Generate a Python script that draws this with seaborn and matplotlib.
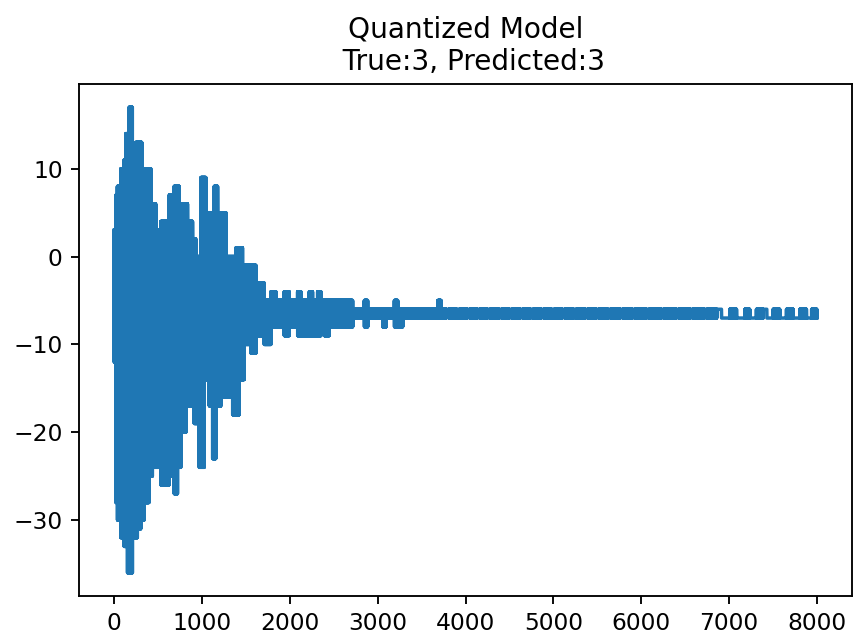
import numpy as np
import pandas as pd
import matplotlib
matplotlib.use("Agg")
import matplotlib.pyplot as plt
import seaborn as sns

# envelope of the quantized waveform:
# each segment starts at a sample index and swings between a high and a low level
seg_start = [0, 20, 38, 76, 114, 133, 152, 171, 209, 247, 266, 304, 316, 342, 399,
             418, 437, 475, 532, 627, 684, 722, 741, 760, 779, 817, 836, 893, 912,
             931, 969, 988, 1026, 1045, 1083, 1121, 1140, 1159, 1178, 1216, 1273,
             1349, 1387, 1425, 1463, 1482, 1558, 1615, 1709, 1785, 1842, 1937, 1994,
             2089, 2127, 2222, 2260, 2317, 2355, 2393, 2450, 2716, 2849, 2887, 3058,
             3096, 3191, 3229, 3286, 3685]
seg_high = [3, 7, 8, 10, 11, 14, 14, 17, 12, 13, 13, 13, 10, 10, 10,
            6, 6, 3, 4, 7, 8, 8, 5, 5, 6, 6, 4, 2, 2,
            0, 0, 9, 9, 3, 5, 5, 8, 8, 5, 5, 0,
            0, 1, 1, -1, -1, -1, -3, -5, -4, -5, -4, -5,
            -4, -5, -4, -5, -4, -5, -5, -5, -6, -5, -6, -6,
            -6, -5, -6, -6, -5]
seg_low = [-12, -28, -30, -32, -33, -33, -36, -36, -32, -32, -31, -30, -30, -28, -25,
           -25, -24, -24, -26, -25, -27, -24, -24, -20, -20, -17, -17, -17, -19,
           -19, -24, -24, -14, -14, -17, -23, -23, -17, -17, -16, -16,
           -18, -18, -14, -14, -10, -11, -9, -10, -8, -8, -9, -8,
           -9, -9, -9, -9, -9, -8, -9, -8, -7, -8, -7, -8,
           -7, -8, -8, -7, -7]

# long quiet tail: the signal sits on -6/-7, with short stretches flat on one level
tail_start = [3723, 3780, 3810, 3900, 3930, 4020, 4050, 4130, 4160, 4250, 4280, 4380,
              4410, 4500, 4530, 4620, 4650, 4740, 4770, 4860, 4890, 4980, 5010, 5100,
              5130, 5230, 5260, 5360, 5390, 5490, 5520, 5620, 5650, 5760, 5790, 5900,
              5930, 6060, 6090, 6230, 6260, 6400, 6430, 6560, 6590, 6720, 6750, 6860,
              6914, 7008, 7085, 7180, 7236, 7312, 7388, 7430, 7502, 7578, 7654, 7730,
              7806, 7882, 7940]
tail_high = [-6] * 48 + [-7, -6, -7, -6, -7, -6, -6, -7, -6, -7, -6, -7, -6, -7, -6]
tail_low = [-7, -6] * 24 + [-7, -7, -7, -7, -7, -7, -6, -7, -7, -7, -7, -7, -7, -7, -7]

n_samples = 8000
title = "Quantized Model\n  True:3, Predicted:3"

starts = seg_start + tail_start
highs = seg_high + tail_high
lows = seg_low + tail_low
ends = starts[1:] + [n_samples]

wave = np.empty(n_samples)
for s, e, hi, lo in zip(starts, ends, highs, lows):
    levels = np.array([hi, lo], dtype=float)
    wave[s:e] = levels[np.arange(e - s) % 2]

df = pd.DataFrame({"sample": np.arange(n_samples), "amplitude": wave})

dpi = 168
fig = plt.figure(figsize=(864 / dpi, 636 / dpi), dpi=dpi)
ax = fig.add_axes([0.0914, 0.0629, 0.8947, 0.805])
sns.lineplot(data=df, x="sample", y="amplitude", estimator=None, color="#1f77b4",
             linewidth=1.5, ax=ax)
ax.set_xlabel("")
ax.set_ylabel("")
ax.set_title(title)
fig.savefig("out.png", dpi=dpi)
